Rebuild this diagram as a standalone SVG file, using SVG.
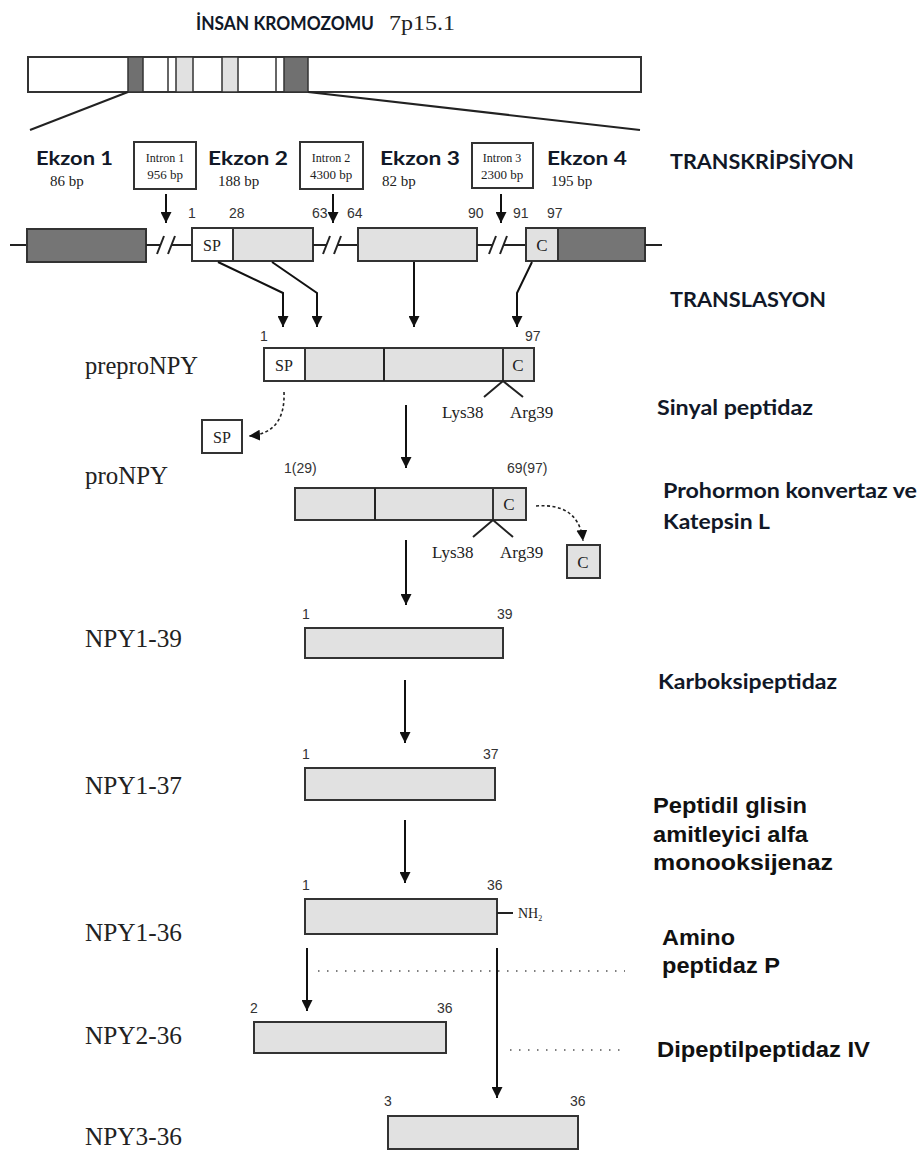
<svg xmlns="http://www.w3.org/2000/svg" width="918" height="1151" viewBox="0 0 918 1151">
<style>
.hd{font-family:Lato,"Open Sans","Liberation Sans",sans-serif;font-weight:bold;fill:#111827}
.ar{font-family:"Liberation Sans",Arial,sans-serif;font-weight:bold;fill:#111;font-size:22px}
.sf{font-family:"Liberation Serif","Times New Roman",serif;fill:#222}
.lbl{font-size:25px}
.num{font-family:"Liberation Sans",Arial,sans-serif;font-size:14px;fill:#333}
.box{stroke:#333;stroke-width:2;fill:#e1e1e1}
.wbox{stroke:#333;stroke-width:2;fill:#fff}
.dbox{stroke:#333;stroke-width:2;fill:#757575}
.ln{stroke:#222;stroke-width:2;fill:none}
.arr{stroke:#111;stroke-width:2;fill:none;marker-end:url(#ah)}
.dash{stroke:#222;stroke-width:1.6;fill:none;stroke-dasharray:3 2.5;marker-end:url(#ah)}
.dot{stroke:#555;stroke-width:1.5;stroke-dasharray:1.5 7.5;fill:none}
</style>
<defs>
<marker id="ah" viewBox="0 0 10 10" refX="10" refY="5" markerWidth="11" markerHeight="11" markerUnits="userSpaceOnUse" orient="auto">
<path d="M0,0 L10,5 L0,10 z" fill="#111"/>
</marker>
</defs>
<rect width="918" height="1151" fill="#fff"/>

<g id="title">
<text class="hd" x="196" y="30" font-size="19" textLength="178" lengthAdjust="spacingAndGlyphs">İNSAN KROMOZOMU</text>
<text class="sf" x="389" y="30" font-size="22" textLength="66" lengthAdjust="spacingAndGlyphs">7p15.1</text>
</g>

<g id="chromosome">
<rect x="28" y="57" width="613" height="35" class="wbox"/>
<rect x="128" y="57" width="15" height="35" fill="#707070" stroke="#333" stroke-width="1.5"/>
<line x1="168" y1="57" x2="168" y2="92" stroke="#333" stroke-width="1.5"/>
<rect x="176" y="57" width="17" height="35" fill="#e1e1e1" stroke="#333" stroke-width="1.5"/>
<rect x="222" y="57" width="16" height="35" fill="#e1e1e1" stroke="#333" stroke-width="1.5"/>
<line x1="276" y1="57" x2="276" y2="92" stroke="#333" stroke-width="1.5"/>
<rect x="284" y="57" width="24" height="35" fill="#707070" stroke="#333" stroke-width="1.5"/>
<line x1="128" y1="92" x2="30" y2="130" class="ln"/>
<line x1="308" y1="92" x2="640" y2="130" class="ln"/>
</g>

<g id="gene-labels">
<text class="hd" x="36" y="165" font-size="19" textLength="77" lengthAdjust="spacingAndGlyphs">Ekzon 1</text>
<text class="sf" x="50" y="186" font-size="15">86 bp</text>
<text class="hd" x="208" y="165" font-size="19" textLength="80" lengthAdjust="spacingAndGlyphs">Ekzon 2</text>
<text class="sf" x="218" y="186" font-size="15">188 bp</text>
<text class="hd" x="380" y="165" font-size="19" textLength="80" lengthAdjust="spacingAndGlyphs">Ekzon 3</text>
<text class="sf" x="382" y="186" font-size="15">82 bp</text>
<text class="hd" x="547" y="165" font-size="19" textLength="80" lengthAdjust="spacingAndGlyphs">Ekzon 4</text>
<text class="sf" x="551" y="186" font-size="15">195 bp</text>
</g>

<g id="intron1">
<rect x="134" y="142" width="62" height="47" fill="#fff" stroke="#333" stroke-width="2"/>
<text class="sf" x="165" y="162" font-size="12" text-anchor="middle" fill="#444">Intron 1</text>
<text class="sf" x="165" y="179" font-size="13" text-anchor="middle" fill="#444">956 bp</text>
</g>
<g id="intron2">
<rect x="300" y="142" width="63" height="47" fill="#fff" stroke="#333" stroke-width="2"/>
<text class="sf" x="331" y="162" font-size="12" text-anchor="middle" fill="#444">Intron 2</text>
<text class="sf" x="331" y="179" font-size="13" text-anchor="middle" fill="#444">4300 bp</text>
</g>
<g id="intron3">
<rect x="472" y="143" width="61" height="45" fill="#fff" stroke="#333" stroke-width="2"/>
<text class="sf" x="502" y="162" font-size="12" text-anchor="middle" fill="#444">Intron 3</text>
<text class="sf" x="502" y="179" font-size="13" text-anchor="middle" fill="#444">2300 bp</text>
</g>

<g id="gene">
<line x1="10" y1="245" x2="27" y2="245" class="ln"/>
<rect x="27" y="229" width="119" height="33" class="dbox"/>
<line x1="146" y1="245" x2="161" y2="245" class="ln"/>
<line x1="157" y1="254" x2="164" y2="236" class="ln"/>
<line x1="168" y1="254" x2="175" y2="236" class="ln"/>
<line x1="172" y1="245" x2="192" y2="245" class="ln"/>
<rect x="192" y="228" width="41" height="33" class="wbox"/>
<rect x="233" y="228" width="80" height="33" class="box"/>
<text class="sf" x="212" y="251" font-size="16" text-anchor="middle">SP</text>
<line x1="313" y1="245" x2="327" y2="245" class="ln"/>
<line x1="323" y1="254" x2="330" y2="236" class="ln"/>
<line x1="334" y1="254" x2="341" y2="236" class="ln"/>
<line x1="338" y1="245" x2="358" y2="245" class="ln"/>
<rect x="358" y="228" width="119" height="33" class="box"/>
<line x1="477" y1="245" x2="493" y2="245" class="ln"/>
<line x1="489" y1="254" x2="496" y2="236" class="ln"/>
<line x1="500" y1="254" x2="507" y2="236" class="ln"/>
<line x1="504" y1="245" x2="526" y2="245" class="ln"/>
<rect x="526" y="228" width="32" height="33" class="box"/>
<text class="sf" x="542" y="251" font-size="17" text-anchor="middle">C</text>
<rect x="558" y="228" width="87" height="33" class="dbox"/>
<line x1="645" y1="245" x2="662" y2="245" class="ln"/>
<text class="num" x="188" y="218">1</text>
<text class="num" x="229" y="218">28</text>
<text class="num" x="312" y="218">63</text>
<text class="num" x="347" y="218">64</text>
<text class="num" x="468" y="218">90</text>
<text class="num" x="513" y="218">91</text>
<text class="num" x="547" y="218">97</text>
</g>

<g id="process-labels">
<text class="hd" x="670" y="169" font-size="20" textLength="184" lengthAdjust="spacingAndGlyphs">TRANSKRİPSİYON</text>
<text class="hd" x="670" y="307" font-size="20" textLength="156" lengthAdjust="spacingAndGlyphs">TRANSLASYON</text>
<text class="hd" x="657" y="415" font-size="21" textLength="156" lengthAdjust="spacingAndGlyphs">Sinyal peptidaz</text>
<text class="hd" x="663" y="498" font-size="21" textLength="254" lengthAdjust="spacingAndGlyphs">Prohormon konvertaz ve</text>
<text class="hd" x="663" y="529" font-size="21" textLength="107" lengthAdjust="spacingAndGlyphs">Katepsin L</text>
<text class="hd" x="658" y="689" font-size="21" textLength="179" lengthAdjust="spacingAndGlyphs">Karboksipeptidaz</text>
<text class="ar" x="653" y="813" textLength="154" lengthAdjust="spacingAndGlyphs">Peptidil glisin</text>
<text class="ar" x="653" y="842" textLength="155" lengthAdjust="spacingAndGlyphs">amitleyici alfa</text>
<text class="ar" x="653" y="870" textLength="180" lengthAdjust="spacingAndGlyphs">monooksijenaz</text>
<text class="ar" x="662" y="945" textLength="73" lengthAdjust="spacingAndGlyphs">Amino</text>
<text class="ar" x="662" y="973" textLength="118" lengthAdjust="spacingAndGlyphs">peptidaz P</text>
<text class="ar" x="657" y="1057" textLength="213" lengthAdjust="spacingAndGlyphs">Dipeptilpeptidaz IV</text>
</g>

<g id="preproNPY">
<text class="sf lbl" x="85" y="374" textLength="113" lengthAdjust="spacingAndGlyphs">preproNPY</text>
<rect x="264" y="348" width="41" height="33" class="wbox"/>
<rect x="305" y="348" width="198" height="33" class="box"/>
<line x1="384" y1="348" x2="384" y2="381" class="ln"/>
<rect x="503" y="348" width="31" height="33" class="box"/>
<text class="sf" x="284" y="371" font-size="16" text-anchor="middle">SP</text>
<text class="sf" x="518" y="371" font-size="17" text-anchor="middle">C</text>
<text class="num" x="260" y="341">1</text>
<text class="num" x="525" y="341">97</text>
<path d="M484,397 L503,381 L523,397" class="ln" stroke-width="1.6"/>
<text class="sf" x="442" y="418" font-size="17">Lys38</text>
<text class="sf" x="510" y="418" font-size="17">Arg39</text>
</g>

<g id="SP-fragment">
<rect x="202" y="420" width="40" height="33" class="wbox"/>
<text class="sf" x="222" y="443" font-size="16" text-anchor="middle">SP</text>
</g>

<g id="proNPY">
<text class="sf lbl" x="85" y="484" textLength="83" lengthAdjust="spacingAndGlyphs">proNPY</text>
<rect x="295" y="488" width="198" height="32" class="box"/>
<line x1="375" y1="488" x2="375" y2="520" class="ln"/>
<rect x="493" y="488" width="33" height="32" class="box"/>
<text class="sf" x="509" y="510" font-size="17" text-anchor="middle">C</text>
<text class="num" x="284" y="473">1(29)</text>
<text class="num" x="507" y="473">69(97)</text>
<path d="M473,537 L493,520 L513,537" class="ln" stroke-width="1.6"/>
<text class="sf" x="432" y="558" font-size="17">Lys38</text>
<text class="sf" x="500" y="558" font-size="17">Arg39</text>
</g>

<g id="C-fragment">
<rect x="567" y="545" width="33" height="33" class="box"/>
<text class="sf" x="583" y="568" font-size="17" text-anchor="middle">C</text>
</g>

<g id="NPY1-39">
<text class="sf lbl" x="85" y="647" textLength="97" lengthAdjust="spacingAndGlyphs">NPY1-39</text>
<rect x="305" y="628" width="198" height="30" class="box"/>
<text class="num" x="302" y="619">1</text>
<text class="num" x="497" y="619">39</text>
</g>

<g id="NPY1-37">
<text class="sf lbl" x="85" y="794" textLength="97" lengthAdjust="spacingAndGlyphs">NPY1-37</text>
<rect x="305" y="768" width="190" height="32" class="box"/>
<text class="num" x="302" y="759">1</text>
<text class="num" x="483" y="759">37</text>
</g>

<g id="NPY1-36">
<text class="sf lbl" x="85" y="941" textLength="97" lengthAdjust="spacingAndGlyphs">NPY1-36</text>
<rect x="305" y="899" width="192" height="35" class="box"/>
<text class="num" x="302" y="890">1</text>
<text class="num" x="487" y="890">36</text>
<line x1="497" y1="913" x2="513" y2="913" class="ln" stroke-width="1.6"/>
<text class="sf" x="518" y="918" font-size="14">NH<tspan font-size="8" dy="3">2</tspan></text>
</g>

<g id="NPY2-36">
<text class="sf lbl" x="85" y="1044" textLength="97" lengthAdjust="spacingAndGlyphs">NPY2-36</text>
<rect x="254" y="1022" width="192" height="31" class="box"/>
<text class="num" x="250" y="1013">2</text>
<text class="num" x="437" y="1013">36</text>
</g>

<g id="NPY3-36">
<text class="sf lbl" x="85" y="1145" textLength="97" lengthAdjust="spacingAndGlyphs">NPY3-36</text>
<rect x="388" y="1116" width="190" height="33" class="box"/>
<text class="num" x="384" y="1106">3</text>
<text class="num" x="570" y="1106">36</text>
</g>

<g id="connectors">
<line x1="166" y1="194" x2="166" y2="223" class="arr"/>
<line x1="333" y1="194" x2="333" y2="223" class="arr"/>
<line x1="501" y1="194" x2="501" y2="223" class="arr"/>
<path d="M218,262 L283,293 L283,327" class="arr"/>
<path d="M272,262 L317,293 L317,327" class="arr"/>
<line x1="414" y1="262" x2="414" y2="327" class="arr"/>
<path d="M532,262 L517,293 L517,327" class="arr"/>
<path d="M284,392 C285,418 275,434 249,436" class="dash"/>
<line x1="406" y1="405" x2="406" y2="468" class="arr"/>
<path d="M536,506 C560,504 580,512 583,541" class="dash"/>
<line x1="406" y1="540" x2="406" y2="605" class="arr"/>
<line x1="405" y1="680" x2="405" y2="743" class="arr"/>
<line x1="405" y1="820" x2="405" y2="883" class="arr"/>
<line x1="307" y1="948" x2="307" y2="1011" class="arr"/>
<line x1="497" y1="948" x2="497" y2="1098" class="arr"/>
<line x1="318" y1="971" x2="625" y2="971" class="dot"/>
<line x1="510" y1="1050" x2="625" y2="1050" class="dot"/>
</g>
</svg>
